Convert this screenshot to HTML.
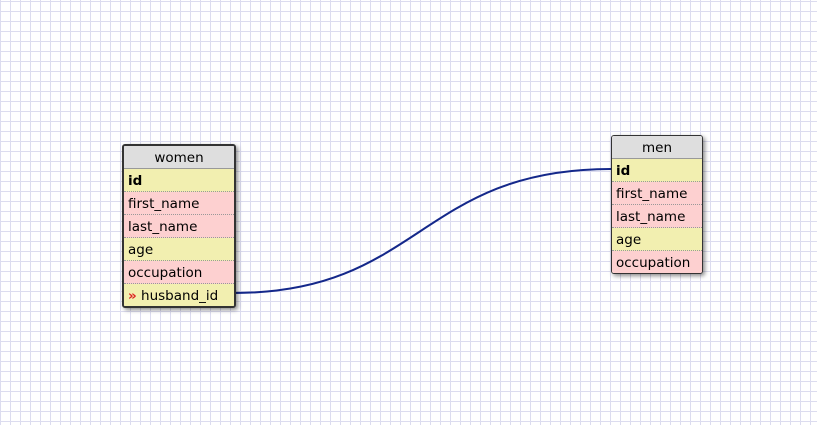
<!DOCTYPE html>
<html><head><style>
body{margin:0;width:817px;height:425px;overflow:hidden;background:#fff;
background-image:linear-gradient(to right,#dcdcef 1px,transparent 1px),linear-gradient(to bottom,#dcdcef 1px,transparent 1px);
background-size:10px 10px;background-position:0 1px;font-family:"DejaVu Sans","Liberation Sans",sans-serif;font-size:13.5px;color:#000}
.t{position:absolute;border:1px solid #333;border-radius:3px;box-shadow:2px 2px 4px rgba(0,0,0,.45);overflow:hidden;background:#fff}
.h{background:#dedede;text-align:center;height:22px;line-height:24px;border-bottom:1px solid #999}
.r{height:22px;line-height:25px;padding-left:4px;border-bottom:1px dotted #999;white-space:nowrap;overflow:hidden}
.r:last-child{border-bottom:none}
.y{background:#f2efb0}.p{background:#fdd0d0}
b{font-weight:bold}
</style></head><body>
<svg style="position:absolute;left:0;top:0" width="817" height="425"><path d="M234 293 C420 293 420 169 611 169" fill="none" stroke="#14288a" stroke-width="2"/></svg>
<div class="t" style="left:122px;top:144px;width:110px;border-width:2px">
<div class="h">women</div>
<div class="r y"><b>id</b></div>
<div class="r p">first_name</div>
<div class="r p">last_name</div>
<div class="r y">age</div>
<div class="r p">occupation</div>
<div class="r y"><span style="color:#d22;font-weight:bold">»</span> husband_id</div>
</div>
<div class="t" style="left:611px;top:135px;width:90px">
<div class="h">men</div>
<div class="r y"><b>id</b></div>
<div class="r p">first_name</div>
<div class="r p">last_name</div>
<div class="r y">age</div>
<div class="r p">occupation</div>
</div>
</body></html>
